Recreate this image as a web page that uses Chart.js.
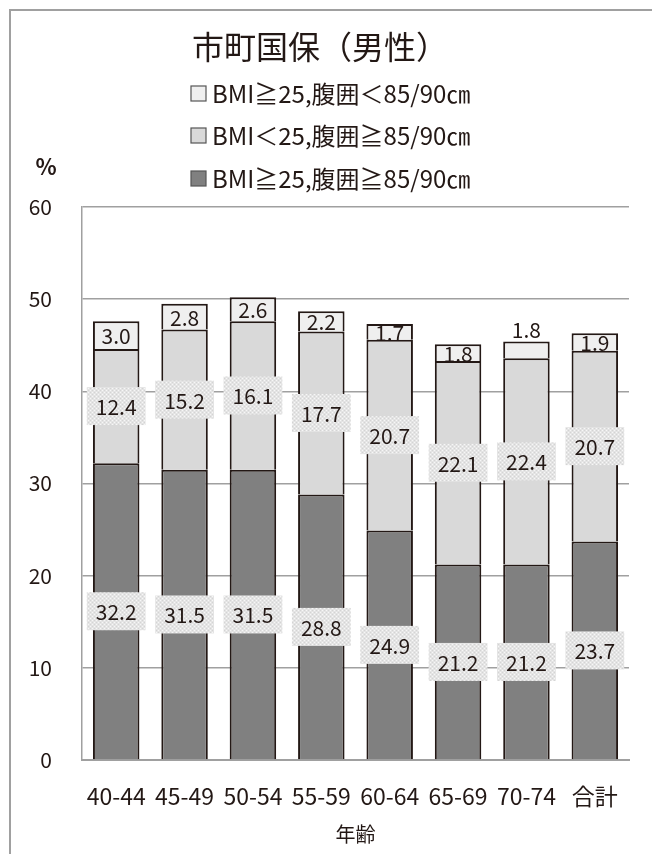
<!DOCTYPE html>
<html>
<head>
<meta charset="utf-8">
<script src="https://cdn.jsdelivr.net/npm/chart.js@4.4.1/dist/chart.umd.min.js"></script>
<style>
    html, body { margin: 0; padding: 0; background: #fff; }
</style>
</head>
<body>
<canvas id="myChart" width="652" height="854"></canvas>
<script>
const categories = ['40-44', '45-49', '50-54', '55-59', '60-64', '65-69', '70-74', '合計'];
const bothOver = [32.2, 31.5, 31.5, 28.8, 24.9, 21.2, 21.2, 23.7];
const waistOnly = [12.4, 15.2, 16.1, 17.7, 20.7, 22.1, 22.4, 20.7];
const bmiOnly = [3.0, 2.8, 2.6, 2.2, 1.7, 1.8, 1.8, 1.9];
const seriesNames = ['BMI≧25,腹囲≧85/90㎝', 'BMI＜25,腹囲≧85/90㎝', 'BMI≧25,腹囲＜85/90㎝'];
const titleText = '市町国保（男性）';
const xTitle = '年齢';
const yUnit = '%';
// the top label of this category sits above the bar in the original
const outsideTop = ['70-74'];

const FONT = "'Noto Sans CJK JP', 'Noto Sans', sans-serif";
const INK = '#231815';
const GRID = '#a0a0a0';

function makePattern(ctx) {
    const c = document.createElement('canvas');
    c.width = 4; c.height = 4;
    const p = c.getContext('2d');
    p.fillStyle = '#e4e4e4'; p.fillRect(0, 0, 4, 4);
    p.fillStyle = '#f7f7f7'; p.fillRect(0, 0, 1, 1); p.fillRect(2, 2, 1, 1);
    p.fillStyle = '#d4d4d4'; p.fillRect(2, 0, 1, 1); p.fillRect(0, 2, 1, 1);
    return ctx.createPattern(c, 'repeat');
}

const decor = {
    id: 'decor',
    beforeDraw(chart) {
        const ctx = chart.ctx;
        ctx.save();
        // outer frame (top + left edges only)
        ctx.strokeStyle = GRID;
        ctx.lineWidth = 2;
        ctx.beginPath();
        ctx.moveTo(10, chart.height);
        ctx.lineTo(10, 10);
        ctx.lineTo(chart.width, 10);
        ctx.stroke();

        ctx.fillStyle = INK;
        ctx.textAlign = 'center';
        ctx.textBaseline = 'middle';
        ctx.font = '32px ' + FONT;
        ctx.fillText(titleText, 320, 47);

        ctx.font = 'bold 22px ' + FONT;
        ctx.fillText(yUnit, 46, 167);

        // legend, reversed order
        const rows = [93, 135, 178];
        const ds = chart.data.datasets.slice().reverse();
        ds.forEach(function (d, i) {
            const y = rows[i];
            ctx.fillStyle = d.backgroundColor;
            ctx.fillRect(191, y - 7, 15, 15);
            ctx.strokeStyle = '#555';
            ctx.lineWidth = 1.2;
            ctx.strokeRect(191, y - 7, 15, 15);
            ctx.fillStyle = INK;
            ctx.textAlign = 'left';
            ctx.font = '24px ' + FONT;
            ctx.fillText(d.label, 212, y + 1);
        });
        ctx.restore();
    },
    afterDatasetsDraw(chart) {
        const ctx = chart.ctx;
        const pat = makePattern(ctx);
        ctx.save();
        ctx.font = '21px ' + FONT;
        ctx.textAlign = 'center';
        ctx.textBaseline = 'middle';
        chart.data.datasets.forEach(function (d, di) {
            const meta = chart.getDatasetMeta(di);
            meta.data.forEach(function (bar, i) {
                const txt = d.data[i].toFixed(1);
                let cy = (bar.y + bar.base) / 2;
                if (di < 2) {
                    const w = ctx.measureText(txt).width + 18;
                    const h = 38;
                    ctx.fillStyle = pat;
                    ctx.fillRect(bar.x - w / 2, cy - h / 2, w, h);
                } else if (outsideTop.includes(categories[i])) {
                    cy = bar.y - 13;
                }
                ctx.fillStyle = INK;
                ctx.fillText(txt, bar.x, cy + 1);
            });
        });
        ctx.restore();
    }
};

const ctx = document.getElementById('myChart');
new Chart(ctx, {
    type: 'bar',
    data: {
        labels: categories,
        datasets: [{
            label: seriesNames[0],
            data: bothOver,
            backgroundColor: '#808080'
        }, {
            label: seriesNames[1],
            data: waistOnly,
            backgroundColor: '#d9d9d9'
        }, {
            label: seriesNames[2],
            data: bmiOnly,
            backgroundColor: '#efefef'
        }]
    },
    options: {
        responsive: false,
        animation: false,
        datasets: {
            bar: {
                borderColor: INK,
                borderWidth: 2,
                barPercentage: 0.68,
                categoryPercentage: 1
            }
        },
        layout: {
            padding: { top: 207, left: 10, right: 23, bottom: 0 }
        },
        plugins: {
            legend: { display: false },
            title: { display: false },
            tooltip: { enabled: false }
        },
        scales: {
            x: {
                stacked: true,
                grid: { display: false, drawTicks: false },
                border: { color: GRID, width: 2 },
                ticks: { color: INK, font: { family: FONT, size: 23 }, padding: 22 },
                title: {
                    display: true,
                    text: xTitle,
                    color: INK,
                    font: { family: FONT, size: 20 },
                    padding: { top: 4, bottom: 8 }
                },
                afterFit: function (s) { s.height = 94; }
            },
            y: {
                stacked: true,
                min: 0,
                max: 60,
                grid: { color: GRID, lineWidth: 1.5, drawTicks: false },
                border: { display: true, color: GRID, width: 1.5 },
                ticks: {
                    stepSize: 10,
                    color: INK,
                    padding: 30,
                    font: { family: FONT, size: 21 }
                },
                afterFit: function (s) { s.width = 72; }
            }
        }
    },
    plugins: [decor]
});
</script>
</body>
</html>
